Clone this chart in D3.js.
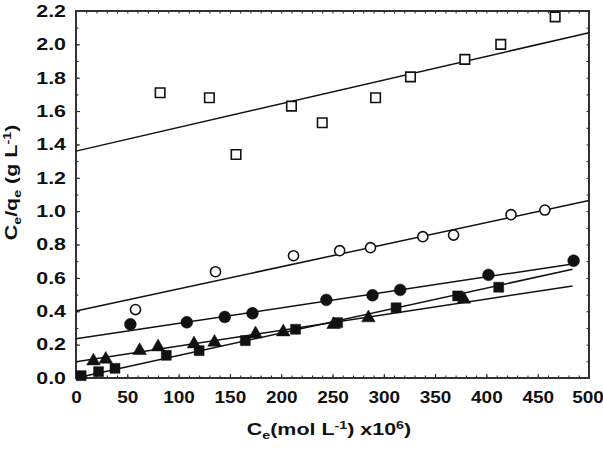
<!DOCTYPE html>
<html>
<head>
<meta charset="utf-8">
<script src="https://cdnjs.cloudflare.com/ajax/libs/d3/7.8.5/d3.min.js"></script>
<style>
  body { margin: 0; background: #fff; }
  text { font-family: "Liberation Sans", Arial, sans-serif; font-weight: bold; fill: #111; }
</style>
</head>
<body>
<div id="chart"></div>
<script>
// data
var openSqX = [82, 130, 156, 210, 240, 292, 326, 379, 414, 467];
var openSqY = [1.71, 1.68, 1.34, 1.63, 1.53, 1.68, 1.805, 1.91, 2.00, 2.165];

var openCircX = [58, 136, 212, 257, 287, 338, 368, 424, 457];
var openCircY = [0.41, 0.637, 0.733, 0.763, 0.781, 0.847, 0.857, 0.979, 1.007];

var fillCircX = [53, 108, 145, 172, 244, 289, 316, 402, 485];
var fillCircY = [0.322, 0.334, 0.366, 0.388, 0.468, 0.496, 0.528, 0.618, 0.703];

var fillSqX = [5, 22, 38, 88, 120, 165, 214, 255, 312, 372, 412];
var fillSqY = [0.014, 0.038, 0.058, 0.136, 0.164, 0.224, 0.292, 0.332, 0.421, 0.492, 0.544];

var triX = [17, 29, 62, 80, 115, 135, 175, 202, 251, 285, 378];
var triY = [0.102, 0.112, 0.164, 0.186, 0.204, 0.214, 0.264, 0.276, 0.320, 0.360, 0.472];

// fitted lines: start/end x and y
var fitX = [[0, 500], [0, 500], [0, 484], [0, 484], [0, 484]];
var fitY = [[1.36, 2.07], [0.402, 1.064], [0.235, 0.684], [0.0, 0.652], [0.098, 0.552]];

var xMajor = [0, 50, 100, 150, 200, 250, 300, 350, 400, 450, 500];
var yMajor = [0.0, 0.2, 0.4, 0.6, 0.8, 1.0, 1.2, 1.4, 1.6, 1.8, 2.0, 2.2];

var margin = {top: 11, right: 14, bottom: 72, left: 76},
    width = 603 - margin.left - margin.right,
    height = 450 - margin.top - margin.bottom;

var stretch = 1.3; // the original lettering is wide
var xStretch = 1.15;

var svg = d3.select("#chart").append("svg")
    .attr("width", 603)
    .attr("height", 450)
  .append("g")
    .attr("transform", "translate(" + margin.left + "," + margin.top + ")");

var x = d3.scaleLinear().domain([0, 500]).range([0, width]);
var y = d3.scaleLinear().domain([0, 2.2]).range([height, 0]);

// minor ticks (inside) on all four sides
var xMinor = d3.range(0, 501, 10);
var yMinor = d3.range(0, 23).map(function(i) { return i / 10; });

function minorAxis(axis, vals, tr) {
  var g = svg.append("g").attr("transform", tr)
    .call(axis.tickValues(vals).tickSize(-2.5).tickFormat(""));
  g.select(".domain").remove();
  g.selectAll(".tick line").attr("stroke", "#222").attr("stroke-width", 1);
}
minorAxis(d3.axisBottom(x), xMinor, "translate(0," + height + ")");
minorAxis(d3.axisTop(x), xMinor, "translate(0,0)");
minorAxis(d3.axisLeft(y), yMinor, "translate(0,0)");
minorAxis(d3.axisRight(y), yMinor, "translate(" + width + ",0)");

// major ticks + labels
var xAxis = svg.append("g")
    .attr("transform", "translate(0," + height + ")")
    .call(d3.axisBottom(x).tickValues(xMajor).tickSizeInner(-4).tickSizeOuter(0).tickPadding(13).tickFormat(d3.format("d")));
xAxis.select(".domain").remove();
xAxis.selectAll(".tick line").attr("stroke", "#222");
xAxis.selectAll("text").style("font-size", "16.5px").attr("fill", "#111")
    .attr("transform", function(d) { return (d == 500 ? "translate(-1.5,0) " : "") + "scale(" + xStretch + ",1)"; });

var yAxis = svg.append("g")
    .call(d3.axisLeft(y).tickValues(yMajor).tickSizeInner(-4).tickSizeOuter(0).tickPadding(10 / stretch).tickFormat(d3.format(".1f")));
yAxis.select(".domain").remove();
yAxis.selectAll(".tick line").attr("stroke", "#222");
yAxis.selectAll("text").style("font-size", "16.5px").attr("fill", "#111")
    .attr("transform", "scale(" + stretch + ",1)");

svg.append("rect")
    .attr("width", width).attr("height", height)
    .attr("fill", "none").attr("stroke", "#333").attr("stroke-width", 2);

// fitted lines
for (var i = 0; i < fitX.length; i++) {
  svg.append("line")
    .attr("x1", x(fitX[i][0])).attr("y1", y(fitY[i][0]))
    .attr("x2", x(fitX[i][1])).attr("y2", y(fitY[i][1]))
    .attr("stroke", "#111").attr("stroke-width", 1.5);
}

// points
function pts(xs, ys, type, size, fill) {
  svg.selectAll(null)
    .data(xs.map(function(d, i) { return [d, ys[i]]; }))
    .enter().append("path")
    .attr("transform", function(d) { return "translate(" + x(d[0]) + "," + y(d[1]) + ")"; })
    .attr("d", d3.symbol().type(type).size(size))
    .attr("fill", fill ? "#111" : "#fff")
    .attr("stroke", "#111")
    .attr("stroke-width", fill ? 0.5 : 1.6);
}
pts(openSqX, openSqY, d3.symbolSquare, 90, false);
pts(openCircX, openCircY, d3.symbolCircle, 80, false);
pts(fillCircX, fillCircY, d3.symbolCircle, 110, true);
pts(fillSqX, fillSqY, d3.symbolSquare, 100, true);
pts(triX, triY, d3.symbolTriangle, 80, true);

// axis titles
var xt = svg.append("text")
    .attr("transform", "translate(253," + (height + 57) + ") scale(" + stretch + ",1)")
    .attr("text-anchor", "middle")
    .style("font-size", "16.5px");
xt.append("tspan").text("C");
xt.append("tspan").text("e").style("font-size", "11px").attr("dy", 4);
xt.append("tspan").text("(mol L").attr("dy", -4);
xt.append("tspan").text("-1").style("font-size", "11px").attr("dy", -6);
xt.append("tspan").text(") x10").attr("dy", 6);
xt.append("tspan").text("6").style("font-size", "11px").attr("dy", -6);
xt.append("tspan").text(")").attr("dy", 6);

var yt = svg.append("text")
    .attr("transform", "translate(" + (-59) + "," + (height / 2 - 12) + ") rotate(-90) scale(" + stretch + ",1)")
    .attr("text-anchor", "middle")
    .style("font-size", "16.5px");
yt.append("tspan").text("C");
yt.append("tspan").text("e").style("font-size", "11px").attr("dy", 4);
yt.append("tspan").text("/q").attr("dy", -4);
yt.append("tspan").text("e").style("font-size", "11px").attr("dy", 4);
yt.append("tspan").text(" (g L").attr("dy", -4);
yt.append("tspan").text("-1").style("font-size", "11px").attr("dy", -6);
yt.append("tspan").text(")").attr("dy", 6);
</script>
</body>
</html>
